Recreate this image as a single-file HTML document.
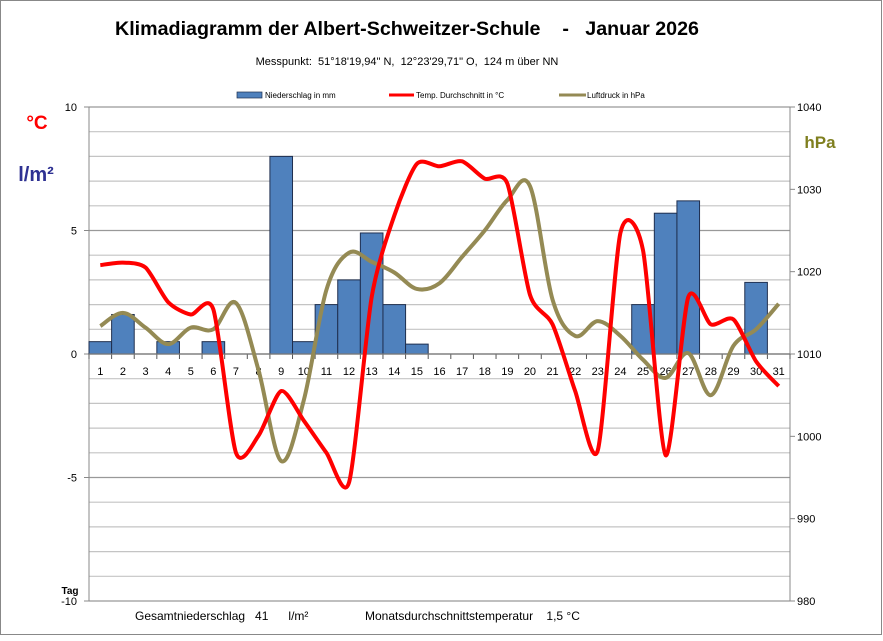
<!DOCTYPE html>
<html><head><meta charset="utf-8"><style>
body{margin:0;background:#fff}
svg text{font-family:"Liberation Sans",sans-serif;white-space:pre}
</style></head><body>
<svg id="s" width="883" height="636" xmlns="http://www.w3.org/2000/svg" xml:space="preserve">
<rect x="0.5" y="0.5" width="881" height="634" fill="#fff" stroke="#888"/>
<text x="407" y="35" font-size="19" font-weight="bold" text-anchor="middle" textLength="584" lengthAdjust="spacingAndGlyphs">Klimadiagramm der Albert-Schweitzer-Schule    -   Januar 2026</text>
<text x="407" y="65" font-size="11" text-anchor="middle">Messpunkt:  51°18'19,94" N,  12°23'29,71" O,  124 m über NN</text>
<rect x="237" y="92" width="25" height="6" fill="#4f81bd" stroke="#1f2f4f" stroke-width="0.7"/>
<text x="265" y="98" font-size="8">Niederschlag in mm</text>
<line x1="389" y1="95" x2="414" y2="95" stroke="#f00" stroke-width="3"/>
<text x="416" y="98" font-size="8">Temp. Durchschnitt in °C</text>
<line x1="559" y1="95" x2="586" y2="95" stroke="#948a54" stroke-width="3"/>
<text x="587" y="98" font-size="8">Luftdruck in hPa</text>
<text x="37" y="129" font-size="19" font-weight="bold" fill="#f00" text-anchor="middle">°C</text>
<text x="36" y="181" font-size="20" font-weight="bold" fill="#2e3192" text-anchor="middle">l/m²</text>
<text x="820" y="148" font-size="17" font-weight="bold" fill="#7f7f1f" text-anchor="middle">hPa</text>
<g id="g"></g>
<text x="135" y="620" font-size="12">Gesamtniederschlag   41      l/m²</text>
<text x="365" y="620" font-size="12">Monatsdurchschnittstemperatur    1,5 °C</text>
</svg>
<script>
const g=document.getElementById('g');let h='';
const L=89,R=790,T=107,B=601,Z=354,u=24.7,w=(R-L)/31;
for(let i=0;i<=20;i++){const y=T+i*(B-T)/20;h+=`<line x1="${L}" y1="${y}" x2="${R}" y2="${y}" stroke="${i%5==0?'#999':'#c4c4c4'}" stroke-width="1.2"/>`;}
h+=`<line x1="${L}" y1="${T}" x2="${L}" y2="${B}" stroke="#888"/><line x1="${R}" y1="${T}" x2="${R}" y2="${B}" stroke="#888"/>`;
[10,5,0,-5,-10].forEach(v=>{h+=`<text x="77" y="${Z-v*u+4}" font-size="11" text-anchor="end">${v}</text><line x1="84" x2="${L}" y1="${Z-v*u}" y2="${Z-v*u}" stroke="#888"/>`;});
[1040,1030,1020,1010,1000,990,980].forEach((v,i)=>{const y=T+i*(B-T)/6;h+=`<text x="797" y="${y+4}" font-size="11">${v}</text><line x1="${R}" x2="${R+5}" y1="${y}" y2="${y}" stroke="#888"/>`;});
h+=`<text x="70" y="594" font-size="10" font-weight="bold" text-anchor="middle">Tag</text>`;
const pr=[.5,1.6,0,.5,0,.5,null,null,8,.5,2,3,4.9,2,.4,null,null,null,null,null,null,null,null,null,2,5.7,6.2,null,null,2.9,null];
pr.forEach((v,i)=>{if(v===null)return;const x=L+i*w;h+=`<rect x="${x}" y="${Z-v*u}" width="${w}" height="${v*u}" fill="#4f81bd" stroke="#1f2f4f" stroke-width="1"/>`;});
for(let i=0;i<=31;i++){const x=L+i*w;h+=`<line x1="${x}" x2="${x}" y1="${Z}" y2="${Z+5}" stroke="#555"/>`;}
for(let i=0;i<31;i++){h+=`<text x="${L+(i+.5)*w}" y="375" font-size="11" text-anchor="middle">${i+1}</text>`;}
h+=`<line x1="${L}" x2="${R}" y1="${Z}" y2="${Z}" stroke="#777" stroke-width="1.2"/>`;
function path(ys,c,k){const p=ys.map((y,i)=>[L+(i+.5)*w,y]);let d=`M${p[0][0]},${p[0][1]}`;
for(let i=0;i<p.length-1;i++){const p0=p[i-1]||p[i],p1=p[i],p2=p[i+1],p3=p[i+2]||p2;
d+=`C${p1[0]+(p2[0]-p0[0])/k},${p1[1]+(p2[1]-p0[1])/k} ${p2[0]-(p3[0]-p1[0])/k},${p2[1]-(p3[1]-p1[1])/k} ${p2[0]},${p2[1]}`;}
return `<path d="${d}" fill="none" stroke="${c}" stroke-width="4" stroke-linejoin="round"/>`;}
const t=[3.6,3.7,3.5,2.1,1.6,1.8,-4,-3.3,-1.5,-2.7,-4,-5.2,2.3,5.6,7.7,7.6,7.8,7.1,6.9,2.4,1.2,-1.5,-3.9,4.9,4.2,-4.1,2.3,1.2,1.4,-0.3,-1.3];
const P=[1013.4,1015,1013.2,1011.2,1013.2,1013,1016.2,1008,997,1004.4,1017.8,1022.3,1021.2,1019.9,1017.9,1018.6,1021.8,1025,1028.7,1030.4,1016.6,1012.2,1014,1012.2,1009.3,1007.1,1010.1,1005,1011,1013,1016.1];
h+=path(P.map(v=>B-(v-980)*(B-T)/60),'#948a54',6);
h+=path(t.map(v=>Z-v*u),'#f00',8);
g.innerHTML=h;
</script>
</body></html>
